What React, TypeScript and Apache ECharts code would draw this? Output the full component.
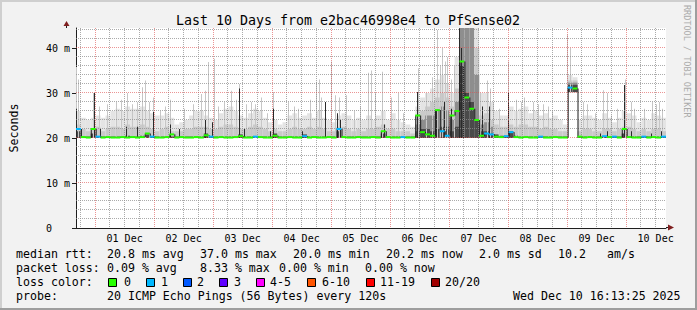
import { useEffect, useRef } from "react";
import * as echarts from "echarts";

const W = 697;
const H = 310;
const START_HOUR = 16 + 13 / 60 + 25 / 3600; // Nov 30 16:13:25
const SPAN = 240; // hours shown
const BIN = 2; // hours per smoke bin
const PLOT_LEFT = 66;
const PLOT_TOP = 28;
const PLOT_W = 600;
const PLOT_H = 200;
const Y_MAX = PLOT_H / 4.5;
const MONO = '"DejaVu Sans Mono", monospace';

const titleText = "Last 10 Days from e2bac46998e4 to PfSense02";
const dayLabels = ["01 Dec", "02 Dec", "03 Dec", "04 Dec", "05 Dec", "06 Dec", "07 Dec", "08 Dec", "09 Dec", "10 Dec"];
const yTickValues = [0, 10, 20, 30, 40];

// per 2-hour bin (120 bins), values in ms
const rttMin = [
  20, 20, 20, 20, 20, 20, 20, 20, 20, 20, 20, 20, 20, 20, 20, 20, 20, 20, 20, 20,
  20, 20, 20, 20, 20, 20, 20, 20, 20, 20, 20, 20, 20, 20, 20, 20, 20, 20, 20, 20,
  20, 20, 20, 20, 20, 20, 20, 20, 20, 20, 20, 20, 20, 20, 20, 20, 20, 20, 20, 20,
  20, 20, 20, 20, 20, 20, 20, 20, 20, 20, 20, 20, 20, 20, 20, 20, 20, 20, 20, 20,
  20, 20, 20, 20, 20, 20, 20, 20, 20, 20, 20, 20, 20, 20, 20, 20, 20, 20, 20, 20,
  30.2, 30.2, 20, 20, 20, 20, 20, 20, 20, 20, 20, 20, 20, 20, 20, 20, 20, 20, 20, 20,
];
const smokeLight = [
  26, 24.5, 24, 24.5, 25, 24.5, 25, 26, 26.5, 26, 27, 26.5, 26.5, 27, 26, 25.5, 25, 25, 25.5, 24.5,
  23, 23.5, 24, 25, 26, 26, 25, 24.5, 24, 25.5, 26.5, 27, 26, 25, 24.5, 25.5, 26.5, 26, 24.5, 23.5,
  24, 23, 23.5, 25, 25.5, 24.5, 25, 25.5, 24.5, 26, 24.5, 24, 23.5, 25, 25.5, 25, 24, 24.5, 24, 25,
  24, 25, 26, 24, 25.5, 24, 23.5, 23, 22.5, 27, 29, 30, 31, 33, 34, 32, 30, 38, 44.5, 44.5,
  44.5, 44.5, 30, 30, 28, 26, 25, 25, 27, 26, 26.5, 27, 25.5, 26, 25, 25.5, 24.5, 25, 24, 23,
  34, 33.5, 24, 25, 25, 24.5, 24, 25.5, 24.5, 23.5, 24.5, 26, 25.5, 25, 23.5, 24.5, 24, 25.5, 25, 24.5,
];
const smokeMid = [
  23, 22, 21.5, 22, 22.5, 21.5, 22, 22.5, 22.5, 22, 23, 22.5, 22.5, 23, 22.5, 22, 21.5, 22, 22.5, 21.5,
  21.5, 21.5, 22, 22, 22.5, 22.5, 22.5, 22, 22, 22.5, 23, 23, 22.5, 22, 22, 22.5, 23, 22.5, 22, 21.5,
  22, 21.5, 21.5, 22, 22.5, 22, 22, 22.5, 22, 22.5, 22, 21.5, 21.5, 22.5, 22.5, 22, 21.5, 22, 21.5, 22,
  22, 22.5, 23, 22, 22, 21.5, 21.5, 21.5, 21, 25, 26, 27, 28, 29, 30, 29, 27, 31, 44.5, 44.5,
  44.5, 40, 25, 25.5, 24, 23, 22.5, 22.5, 23, 22.5, 23, 23, 22.5, 22.5, 22, 22.5, 22, 22, 21.5, 21.5,
  32.8, 32.8, 21.5, 22, 22, 21.5, 21.5, 22, 22, 21.5, 22, 22.5, 22.5, 22, 21.5, 22, 21.5, 22, 22, 21.5,
];
const smokeHeavy = [
  20.3, 20.3, 20.3, 20.3, 20.3, 20.3, 20.3, 20.3, 20.3, 20.3, 20.3, 20.3, 20.3, 20.3, 20.3, 20.3, 20.3, 20.3, 20.3, 20.3,
  20.3, 20.3, 20.3, 20.3, 20.3, 20.3, 20.3, 20.3, 20.3, 20.3, 20.3, 20.3, 20.3, 20.3, 20.3, 20.3, 20.3, 20.3, 20.3, 20.3,
  20.3, 20.3, 20.3, 20.3, 20.3, 20.3, 20.3, 20.3, 20.3, 20.3, 20.3, 20.3, 20.3, 20.3, 20.3, 20.3, 20.3, 20.3, 20.3, 20.3,
  20.3, 20.3, 20.3, 20.3, 20.3, 20.3, 20.3, 20.3, 20.3, 23, 24, 25, 25, 26, 27, 26, 24, 28, 44.5, 44.5,
  44.5, 34, 23, 23.5, 22.5, 20.3, 20.3, 20.3, 20.3, 20.3, 20.3, 20.3, 20.3, 20.3, 20.3, 20.3, 20.3, 20.3, 20.3, 20.3,
  32.3, 32.3, 20.3, 20.3, 20.3, 20.3, 20.3, 20.3, 20.3, 20.3, 20.3, 20.3, 20.3, 20.3, 20.3, 20.3, 20.3, 20.3, 20.3, 20.3,
];
const smokeDark = [
  21.5, 20.3, 20.3, 21, 20.3, 20.3, 20.3, 20.3, 20.3, 20.3, 20.5, 20.3, 20.3, 20.5, 20.8, 20.3, 20.3, 20.3, 20.3, 20.3,
  20.3, 20.3, 20.3, 20.3, 20.3, 20.3, 21, 20.3, 20.3, 20.3, 20.3, 20.3, 20.3, 20.8, 20.3, 20.3, 20.3, 20.3, 20.3, 20.3,
  21, 20.3, 20.3, 20.3, 20.3, 20.3, 20.8, 20.3, 20.3, 20.3, 20.3, 20.3, 20.3, 21.5, 20.3, 20.3, 20.3, 20.3, 20.3, 20.3,
  20.3, 20.3, 21, 20.3, 20.3, 20.3, 20.3, 20.3, 20.3, 21.5, 22, 22, 21.5, 22, 22.5, 22.5, 21.5, 22.5, 36, 30,
  28, 24, 21.5, 21.5, 21, 20.8, 20.5, 20.5, 21.5, 20.5, 20.3, 20.3, 20.3, 20.3, 20.3, 20.3, 20.3, 20.3, 20.3, 20.3,
  31.8, 31.8, 20.3, 20.3, 20.3, 20.3, 20.3, 20.3, 20.3, 20.3, 20.3, 21, 20.3, 20.3, 20.3, 20.3, 20.3, 20.3, 20.3, 20.3,
];
const medianRtt = [
  22, 20.2, 20.1, 22, 20.3, 20.1, 20.2, 20.1, 20.1, 20.2, 20.1, 20.2, 20.1, 20.2, 21, 20.3, 20.1, 20.1, 20.2, 20.8,
  20.1, 20.2, 20.1, 20.1, 20.2, 20.1, 20.6, 20.3, 20.1, 20.2, 20.1, 20.1, 20.2, 20.4, 20.1, 20.1, 20.3, 20.2, 20.1, 20.1,
  20.5, 20.1, 20.1, 20.2, 20.1, 20.1, 20.4, 20.1, 20.2, 20.1, 20.1, 20.2, 20.1, 22, 20.2, 20.1, 20.1, 20.2, 20.1, 20.1,
  20.2, 20.1, 21.5, 20.2, 20.1, 20.1, 20.2, 20.1, 20.1, 25, 21.3, 20.8, 20.5, 26.2, 21.5, 20.5, 25, 26, 37, 29,
  26.5, 24, 20.5, 21, 20.8, 20.3, 20.2, 20.4, 21.3, 20.2, 20.1, 20.2, 20.1, 20.1, 20.3, 20.1, 20.1, 20.2, 20.1, 20.1,
  31.2, 31, 20.3, 20.1, 20.2, 20.1, 20.1, 20.4, 20.2, 20.3, 20.1, 22, 20.2, 20.1, 20.1, 20.3, 20.1, 20.2, 20.1, 20.3,
];
const lossCount = [
  1, 0, 0, 0, 1, 0, 0, 0, 0, 0, 0, 0, 0, 0, 0, 1, 0, 0, 0, 0,
  0, 0, 0, 0, 0, 0, 0, 1, 0, 0, 0, 0, 0, 0, 0, 0, 1, 0, 0, 0,
  0, 0, 0, 0, 0, 0, 1, 0, 0, 0, 0, 0, 0, 1, 0, 0, 0, 0, 0, 0,
  0, 0, 0, 0, 0, 0, 1, 0, 0, 0, 0, 0, 0, 0, 1, 1, 0, 0, 0, 0,
  0, 0, 0, 1, 1, 0, 0, 1, 1, 0, 0, 0, 0, 0, 1, 0, 0, 0, 0, 0,
  1, 0, 0, 0, 0, 0, 0, 1, 0, 1, 0, 0, 0, 0, 0, 1, 0, 0, 0, 1,
];

// thin outlier columns: hours since start, top in ms
const lightSpikeHour = [
  0.4, 1.2, 7.2, 9.6, 12.8, 16.4, 18.4, 20.8, 22.8, 25.2, 27.2, 28.4, 30.0, 31.6, 34.4, 36.4, 38.4, 44.0, 47.6, 51.2,
  52.8, 54.0, 56.4, 58.0, 60.4, 63.2, 65.2, 66.4, 69.2, 71.2, 73.2, 75.6, 78.0, 80.4, 86.4, 88.8, 90.4, 95.2, 98.0, 99.2,
  100.0, 104.0, 105.6, 107.2, 110.0, 113.2, 115.6, 118.8, 120.0, 122.0, 124.8, 128.4, 131.2, 133.2, 139.2, 142.4, 145.2, 147.2, 148.4, 149.2,
  150.4, 151.2, 152.8, 154.0, 164.4, 167.2, 168.8, 170.0, 172.4, 176.0, 179.2, 181.2, 182.4, 186.0, 188.0, 190.0, 192.0, 194.0, 200.0, 201.2,
  206.4, 208.0, 211.2, 214.4, 216.0, 218.0, 220.4, 223.6, 226.0, 227.2, 231.2, 234.4, 236.0, 237.2, 238.4,
];
const lightSpikeTop = [
  35.8, 33, 30, 27, 27.5, 28, 28.5, 30, 27.5, 28, 31.3, 32.8, 28, 29, 26, 27, 28.5, 26.5, 27.5, 29.8,
  30.5, 36.9, 37.6, 27, 28, 30.5, 28.5, 32, 27.5, 28, 27.5, 29, 25.5, 30.2, 28, 27, 26.5, 28.5, 32.5, 33,
  29, 37, 29.5, 29, 29.5, 26, 27, 34.5, 35, 30, 34.7, 29, 30, 25.5, 35.5, 30, 33.5, 44, 36, 40,
  37, 38, 33, 36, 30, 32.8, 31, 28, 26.5, 37, 28.5, 28, 29, 28, 27.5, 27.5, 27, 26, 43, 40,
  28, 27.5, 25.5, 30.6, 30, 25, 26.5, 33, 28, 26.5, 26.5, 28, 27.5, 28, 26.5,
];
const darkSpikeHour = [
  0.4, 7.6, 10.0, 20.4, 25.2, 31.6, 38.4, 42.0, 52.8, 55.6, 66.4, 68.4, 79.2, 80.4, 92.0, 101.6, 106.4, 107.6,
  125.6, 138.8, 146.8, 150.0, 152.8, 156.0, 156.8, 157.6, 165.2, 168.0, 176.0, 213.2, 216.4, 223.2, 226.0, 234.0, 238.0,
];
const darkSpikeTop = [
  26.5, 30, 22, 22.5, 22.5, 25.8, 23, 22, 24, 23.5, 31, 22, 21.5, 26.5, 21.5, 28, 25.5, 24,
  23, 30.2, 26, 28, 26.5, 44.4, 40, 36, 27, 27, 30, 21, 21.5, 31.8, 21.5, 21, 21.5,
];

const lossLabels = ["0", "1", "2", "3", "4-5", "6-10", "11-19", "20/20"];
const lossColors = ["#26ff00", "#00b8ff", "#0059ff", "#5e00ff", "#ff00ff", "#ff5500", "#ff0000", "#a10000"];
const lossBoxX = [108, 146, 183, 219, 256, 307, 366, 431];
const lossTextX = [124, 161, 197, 234, 270, 322, 380, 445];

const legendRows: [number, number, string][] = [
  [254, 16, "median rtt:"], [254, 107, "20.8 ms avg"], [254, 200, "37.0 ms max"], [254, 293, "20.0 ms min"],
  [254, 386, "20.2 ms now"], [254, 479, "2.0 ms sd"], [254, 558, "10.2"], [254, 607, "am/s"],
  [268, 16, "packet loss:"], [268, 107, "0.09 % avg"], [268, 200, "8.33 % max"], [268, 279, "0.00 % min"], [268, 365, "0.00 % now"],
  [282, 16, "loss color:"],
  [296, 16, "probe:"], [296, 107, "20 ICMP Echo Pings (56 Bytes) every 120s"], [296, 513, "Wed Dec 10 16:13:25 2025"],
];

function lossColor(n: number): string {
  if (n <= 0) return lossColors[0];
  if (n === 1) return lossColors[1];
  if (n === 2) return lossColors[2];
  if (n === 3) return lossColors[3];
  if (n <= 5) return lossColors[4];
  if (n <= 10) return lossColors[5];
  if (n <= 19) return lossColors[6];
  return lossColors[7];
}

function buildOption() {
  const smokeData = medianRtt.map((_, i) => [i * BIN, (i + 1) * BIN, rttMin[i], smokeDark[i], smokeHeavy[i], smokeMid[i], smokeLight[i]]);
  const spikeData = [
    ...lightSpikeHour.map((h, i) => [h, rttMin[Math.min(119, Math.floor(h / BIN))], lightSpikeTop[i], 0]),
    ...darkSpikeHour.map((h, i) => [h, rttMin[Math.min(119, Math.floor(h / BIN))], darkSpikeTop[i], 1]),
  ];
  const medianData = medianRtt.map((m, i) => [i * BIN, (i + 1) * BIN, m, lossCount[i], i > 0 ? medianRtt[i - 1] : m]);

  // grid positions: every 6 hours of wall clock, midnight = major
  const vGrid: number[][] = [];
  for (let t = Math.ceil(START_HOUR / 6) * 6; t < START_HOUR + SPAN; t += 6) {
    vGrid.push([t - START_HOUR, t % 24 === 0 ? 1 : 0]);
  }
  const hGrid: number[][] = [];
  for (let v = 2; v < Y_MAX; v += 2) hGrid.push([v, v % 10 === 0 ? 1 : 0]);

  const noonValues: number[] = [];
  for (let k = 1; k <= dayLabels.length; k++) noonValues.push(24 * k + 12 - START_HOUR);

  const gridColorMinor = "rgba(143,143,143,0.75)";
  const gridColorMajor = "rgba(222,79,79,0.6)";

  const graphics: any[] = [
    // frame shading
    { type: "rect", shape: { x: 0, y: 0, width: W, height: 2 }, style: { fill: "#cfcfcf" }, silent: true },
    { type: "rect", shape: { x: 0, y: 0, width: 2, height: H }, style: { fill: "#cfcfcf" }, silent: true },
    { type: "rect", shape: { x: W - 2, y: 0, width: 2, height: H }, style: { fill: "#9e9e9e" }, silent: true },
    { type: "rect", shape: { x: 0, y: H - 2, width: W, height: 2 }, style: { fill: "#9e9e9e" }, silent: true },
    // axis extensions and arrows
    { type: "line", shape: { x1: PLOT_LEFT + 0.5, y1: PLOT_TOP, x2: PLOT_LEFT + 0.5, y2: 24 }, style: { stroke: "#1f1f1f", lineWidth: 1 }, z: 20 },
    { type: "polygon", shape: { points: [[63.5, 26], [69.5, 26], [66.5, 21]] }, style: { fill: "#7f1f1f" }, z: 20 },
    { type: "line", shape: { x1: PLOT_LEFT + PLOT_W, y1: 227.5, x2: 669, y2: 227.5 }, style: { stroke: "#1f1f1f", lineWidth: 1 }, z: 20 },
    { type: "polygon", shape: { points: [[668, 224.5], [668, 230.5], [674, 227.5]] }, style: { fill: "#7f1f1f" }, z: 20 },
    // title
    { type: "text", x: 348, y: 20, style: { text: titleText, fill: "#000", fontFamily: MONO, fontSize: 13.3, align: "center", verticalAlign: "middle" } },
    // watermark
    { type: "text", x: 687, y: 5, rotation: -Math.PI / 2, style: { text: "RRDTOOL / TOBI OETIKER", fill: "#ababab", fontFamily: MONO, fontSize: 8.5, align: "left", verticalAlign: "middle" } },
  ];
  legendRows.forEach(([y, x, t]) => {
    graphics.push({ type: "text", x, y, style: { text: t, fill: "#000", fontFamily: MONO, fontSize: 11.6, align: "left", verticalAlign: "middle" } });
  });
  lossLabels.forEach((lab, i) => {
    graphics.push({ type: "rect", shape: { x: lossBoxX[i] + 0.5, y: 278.5, width: 8, height: 8 }, style: { fill: lossColors[i], stroke: "#000", lineWidth: 1 } });
    graphics.push({ type: "text", x: lossTextX[i], y: 282, style: { text: lab, fill: "#000", fontFamily: MONO, fontSize: 11.6, align: "left", verticalAlign: "middle" } });
  });

  return {
    animation: false,
    backgroundColor: "#f2f2f2",
    grid: { left: PLOT_LEFT, top: PLOT_TOP, width: PLOT_W, height: PLOT_H, show: true, backgroundColor: "#ffffff", borderWidth: 0 },
    xAxis: {
      type: "value",
      min: 0,
      max: SPAN,
      axisLine: { show: true, lineStyle: { color: "#1f1f1f", width: 1 } },
      axisTick: { show: false },
      splitLine: { show: false },
      axisLabel: {
        customValues: noonValues,
        margin: 5,
        fontFamily: MONO,
        fontSize: 10,
        color: "#000",
        formatter: (v: number) => {
          const k = Math.round((v + START_HOUR - 12) / 24);
          return dayLabels[k - 1] ?? "";
        },
      },
    },
    yAxis: {
      type: "value",
      min: 0,
      max: Y_MAX,
      interval: 10,
      name: "Seconds",
      nameLocation: "middle",
      nameGap: 56,
      nameTextStyle: { fontFamily: MONO, fontSize: 11.6, color: "#000" },
      axisLine: { show: true, lineStyle: { color: "#1f1f1f", width: 1 } },
      axisTick: { show: true, length: 4, customValues: yTickValues, lineStyle: { color: "#1f1f1f" } },
      splitLine: { show: false },
      axisLabel: {
        customValues: yTickValues,
        margin: 6,
        fontFamily: MONO,
        fontSize: 10,
        color: "#000",
        formatter: (v: number) => (v === 0 ? "{z|0}" : `${v} m`),
        rich: { z: { fontFamily: MONO, fontSize: 10, color: "#000", width: 24, align: "left" } },
      },
    },
    graphic: graphics,
    series: [
      {
        type: "custom",
        name: "smoke",
        clip: true,
        z: 2,
        silent: true,
        data: smokeData,
        renderItem: (_p: any, api: any) => {
          const h0 = api.value(0);
          const h1 = api.value(1);
          const lo = api.value(2);
          const layers: [number, string][] = [[6, "#e4e4e4"], [5, "#cacaca"], [4, "#8e8e8e"], [3, "#4a4a4a"]];
          const children: any[] = [];
          layers.forEach(([dim, color]) => {
            const top = Math.min(api.value(dim), Y_MAX);
            if (top <= lo) return;
            const a = api.coord([h0, top]);
            const b = api.coord([h1, lo]);
            children.push({ type: "rect", shape: { x: a[0], y: a[1], width: b[0] - a[0], height: b[1] - a[1] }, style: { fill: color } });
          });
          return { type: "group", children };
        },
      },
      {
        type: "custom",
        name: "spikes",
        clip: true,
        z: 3,
        silent: true,
        data: spikeData,
        renderItem: (_p: any, api: any) => {
          const h = api.value(0);
          const lo = api.value(1);
          const top = Math.min(api.value(2), Y_MAX);
          const dark = api.value(3) === 1;
          const a = api.coord([h, top]);
          const b = api.coord([h, lo]);
          return { type: "rect", shape: { x: Math.floor(a[0]), y: a[1], width: 1, height: b[1] - a[1] }, style: { fill: dark ? "#2a2a2a" : "#c6c6c6" } };
        },
      },
      {
        type: "custom",
        name: "vgrid",
        clip: true,
        z: 4,
        silent: true,
        data: vGrid,
        renderItem: (_p: any, api: any) => {
          const h = api.value(0);
          const major = api.value(1) === 1;
          const a = api.coord([h, Y_MAX]);
          const b = api.coord([h, 0]);
          const x = Math.floor(a[0]) + 0.5;
          return { type: "line", z2: major ? 2 : 1, shape: { x1: x, y1: a[1], x2: x, y2: b[1] }, style: { stroke: major ? gridColorMajor : gridColorMinor, lineWidth: 1, lineDash: [1, 1] } };
        },
      },
      {
        type: "custom",
        name: "hgrid",
        clip: true,
        z: 4,
        silent: true,
        data: hGrid.map((g) => [0, g[0], g[1]]),
        renderItem: (_p: any, api: any) => {
          const v = api.value(1);
          const major = api.value(2) === 1;
          const a = api.coord([0, v]);
          const b = api.coord([SPAN, v]);
          const y = Math.floor(a[1]) - 0.5;
          return { type: "line", z2: major ? 2 : 1, shape: { x1: a[0], y1: y, x2: b[0], y2: y }, style: { stroke: major ? gridColorMajor : gridColorMinor, lineWidth: 1, lineDash: [1, 1] } };
        },
      },
      {
        type: "custom",
        name: "median",
        clip: true,
        z: 5,
        silent: true,
        data: medianData,
        renderItem: (_p: any, api: any) => {
          const h0 = api.value(0);
          const h1 = api.value(1);
          const m = api.value(2);
          const loss = api.value(3);
          const prev = api.value(4);
          const a = api.coord([h0, m]);
          const b = api.coord([h1, m]);
          const p = api.coord([h0, prev]);
          return {
            type: "group",
            children: [
              { type: "line", shape: { x1: a[0] + 0.5, y1: p[1], x2: a[0] + 0.5, y2: a[1] }, style: { stroke: "#1a1a1a", lineWidth: 1 } },
              { type: "line", shape: { x1: a[0], y1: a[1], x2: b[0], y2: b[1] }, style: { stroke: lossColor(loss), lineWidth: 2 } },
            ],
          };
        },
      },
    ],
  };
}

export default function App() {
  const ref = useRef<HTMLDivElement>(null);
  useEffect(() => {
    document.body.style.margin = "0";
    if (!ref.current) return;
    const chart = echarts.init(ref.current, null, { renderer: "svg", width: W, height: H });
    chart.setOption(buildOption() as any);
    return () => chart.dispose();
  }, []);
  return <div ref={ref} style={{ position: "absolute", left: 0, top: 0, width: W, height: H }} />;
}
